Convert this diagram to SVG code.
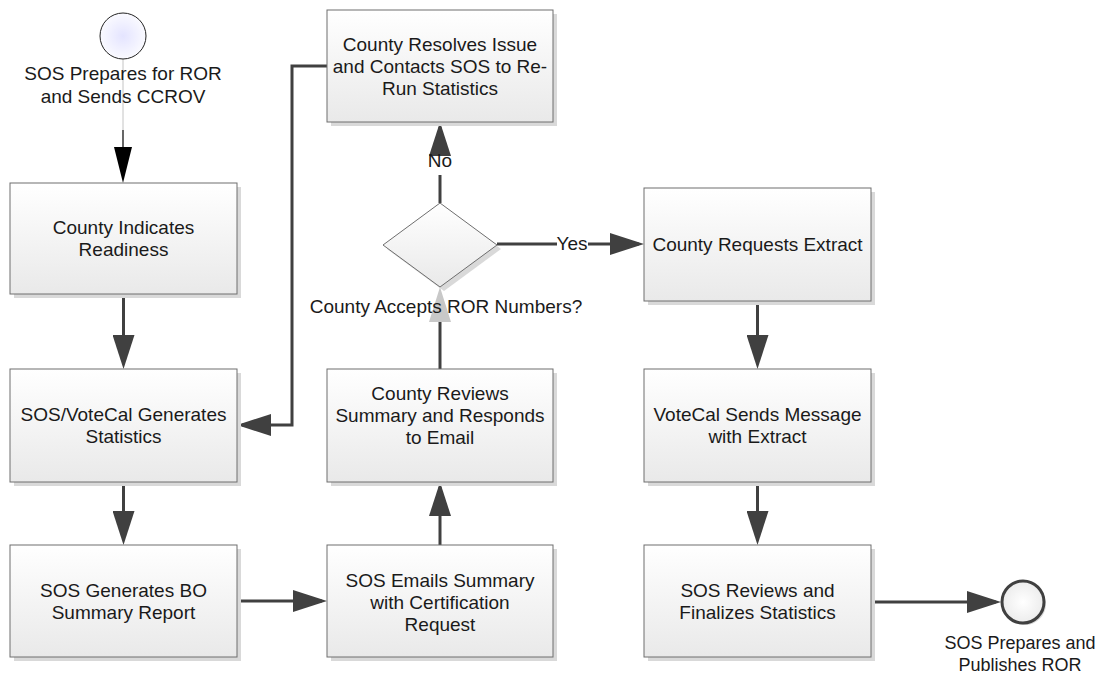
<svg xmlns="http://www.w3.org/2000/svg" width="1099" height="675" viewBox="0 0 1099 675">
<style>
.box{fill:url(#g);stroke:#6e6e6e;stroke-width:1}
.sh{fill:#d9d9d9}
.t{font-family:"Liberation Sans",Arial,sans-serif;font-size:19px;fill:#1a1a1a;text-anchor:middle}
.s{font-size:18px}
.c{fill:none;stroke:#404040;stroke-width:3}
</style>
<defs>
<linearGradient id="g" x1="0" y1="0" x2="0" y2="1"><stop offset="0" stop-color="#ffffff"/><stop offset="1" stop-color="#e9e9e9"/></linearGradient>
<radialGradient id="rs" cx="0.5" cy="0.5" r="0.5"><stop offset="0" stop-color="#e4e4ff"/><stop offset="1" stop-color="#fafaff"/></radialGradient>
<radialGradient id="re" cx="0.5" cy="0.5" r="0.5"><stop offset="0" stop-color="#ffffff"/><stop offset="1" stop-color="#ececec"/></radialGradient>
<marker id="a" markerUnits="userSpaceOnUse" markerWidth="34" markerHeight="22" refX="29" refY="11" orient="auto"><path d="M0,0 L34,11 L0,22 z" fill="#404040"/></marker>
<marker id="as" markerUnits="userSpaceOnUse" markerWidth="36" markerHeight="18" refX="30" refY="9" orient="auto"><path d="M0,0 L36,9 L0,18 z" fill="#000"/></marker>
</defs>

<g id="connectors">
<line x1="123" y1="59" x2="123" y2="130" stroke="#c4c4c4" stroke-width="1"/>
<line x1="123" y1="130" x2="123" y2="177" stroke="#000" stroke-width="1.2" marker-end="url(#as)"/>
<path class="c" d="M123.5,294 V364" marker-end="url(#a)"/>
<path class="c" d="M123.5,482 V540" marker-end="url(#a)"/>
<path class="c" d="M237,601 H322" marker-end="url(#a)"/>
<path class="c" d="M440,545 V487" marker-end="url(#a)"/>
<path class="c" d="M440,369 V322"/>
<path d="M429,322 L440,287 L451,322 z" fill="#c8c8c8"/>
<path class="c" d="M440,203 V175"/>
<path class="c" d="M440,150 V127" marker-end="url(#a)"/>
<path class="c" d="M497,244 H557"/>
<path class="c" d="M588,244 H639" marker-end="url(#a)"/>
<path class="c" d="M327,66 H292 V425 H242" marker-end="url(#a)"/>
<path class="c" d="M757.5,301 V364" marker-end="url(#a)"/>
<path class="c" d="M757.5,482 V540" marker-end="url(#a)"/>
<path class="c" d="M871,602 H996" marker-end="url(#a)"/>
<text class="t" x="440" y="167">No</text>
<text class="t" x="572" y="250">Yes</text>
</g>

<g id="start">
<circle cx="123" cy="36" r="23" fill="url(#rs)" stroke="#222" stroke-width="1"/>
<text class="t" x="123" y="80">SOS Prepares for ROR</text>
<text class="t" x="123" y="103">and Sends CCROV</text>
</g>

<g id="n1">
<rect class="sh" x="14" y="187" width="227" height="111"/>
<rect class="box" x="10" y="183" width="227" height="111"/>
<text class="t" x="123.5" y="234">County Indicates</text>
<text class="t" x="123.5" y="256">Readiness</text>
</g>

<g id="n2">
<rect class="sh" x="14" y="373" width="227" height="113"/>
<rect class="box" x="10" y="369" width="227" height="113"/>
<text class="t" x="123.5" y="420.5">SOS/VoteCal Generates</text>
<text class="t" x="123.5" y="442.5">Statistics</text>
</g>

<g id="n3">
<rect class="sh" x="14" y="549" width="227" height="112"/>
<rect class="box" x="10" y="545" width="227" height="112"/>
<text class="t" x="123.5" y="596.5">SOS Generates BO</text>
<text class="t" x="123.5" y="618.5">Summary Report</text>
</g>

<g id="n4">
<rect class="sh" x="331" y="14" width="226" height="112"/>
<rect class="box" x="327" y="10" width="226" height="112"/>
<text class="t" x="440" y="51">County Resolves Issue</text>
<text class="t" x="440" y="73">and Contacts SOS to Re-</text>
<text class="t" x="440" y="95">Run Statistics</text>
</g>

<g id="n5">
<path d="M444,207 L501,249 L444,291 L387,249 z" fill="#d9d9d9"/>
<path d="M440,203 L497,245 L440,287 L383,245 z" fill="url(#g)" stroke="#6e6e6e" stroke-width="1"/>
<text class="t" x="446" y="313">County Accepts ROR Numbers?</text>
</g>

<g id="n6">
<rect class="sh" x="331" y="373" width="226" height="113"/>
<rect class="box" x="327" y="369" width="226" height="113"/>
<text class="t" x="440" y="400">County Reviews</text>
<text class="t" x="440" y="422">Summary and Responds</text>
<text class="t" x="440" y="444">to Email</text>
</g>

<g id="n7">
<rect class="sh" x="331" y="549" width="226" height="112"/>
<rect class="box" x="327" y="545" width="226" height="112"/>
<text class="t" x="440" y="586.5">SOS Emails Summary</text>
<text class="t" x="440" y="608.5">with Certification</text>
<text class="t" x="440" y="630.5">Request</text>
</g>

<g id="n8">
<rect class="sh" x="648" y="192" width="227" height="113"/>
<rect class="box" x="644" y="188" width="227" height="113"/>
<text class="t" x="757.5" y="251">County Requests Extract</text>
</g>

<g id="n9">
<rect class="sh" x="648" y="373" width="227" height="113"/>
<rect class="box" x="644" y="369" width="227" height="113"/>
<text class="t" x="757.5" y="420.5">VoteCal Sends Message</text>
<text class="t" x="757.5" y="442.5">with Extract</text>
</g>

<g id="n10">
<rect class="sh" x="648" y="549" width="227" height="112"/>
<rect class="box" x="644" y="545" width="227" height="112"/>
<text class="t" x="757.5" y="596.5">SOS Reviews and</text>
<text class="t" x="757.5" y="618.5">Finalizes Statistics</text>
</g>

<g id="end">
<circle cx="1025" cy="604" r="21" fill="#d9d9d9"/>
<circle cx="1023" cy="602" r="21" fill="url(#re)" stroke="#404040" stroke-width="3"/>
<text class="t s" x="1020" y="649">SOS Prepares and</text>
<text class="t s" x="1020" y="671">Publishes ROR</text>
</g>
</svg>
